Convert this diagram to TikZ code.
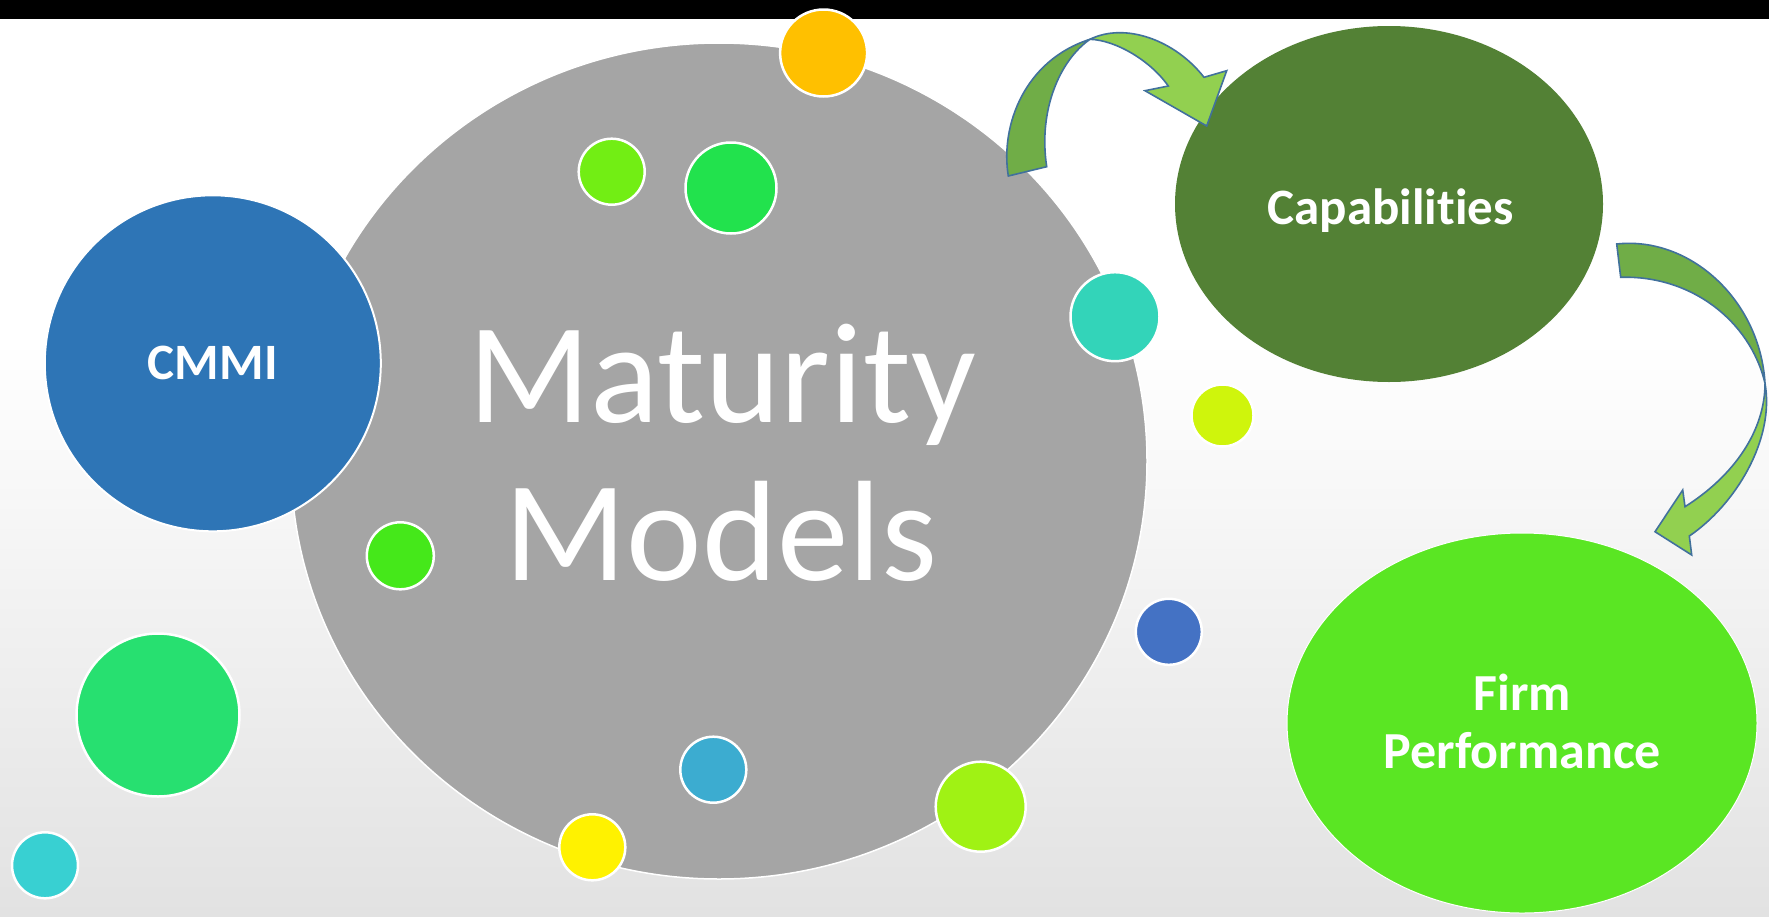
\documentclass[tikz,border=0pt]{standalone}
\usepackage{fontspec}
\setmainfont{Carlito}[Ligatures={NoCommon,NoRare}]
\usetikzlibrary{shapes.geometric}

\definecolor{bgbottom}{HTML}{E2E2E2}
\definecolor{mmgray}{HTML}{A5A5A5}
\definecolor{cmmiblue}{HTML}{2E75B6}
\definecolor{capgreen}{HTML}{538135}
\definecolor{perfgreen}{HTML}{5AE623}
\definecolor{arrowdark}{HTML}{70AD47}
\definecolor{arrowlight}{HTML}{92D050}
\definecolor{arrowline}{HTML}{41719C}
\definecolor{bOrange}{HTML}{FFC000}
\definecolor{bLime}{HTML}{72EE14}
\definecolor{bGreen}{HTML}{22E24D}
\definecolor{bTeal}{HTML}{33D4B9}
\definecolor{bChartreuse}{HTML}{CFF50C}
\definecolor{bLeaf}{HTML}{45E81A}
\definecolor{bBlue}{HTML}{4472C4}
\definecolor{bMint}{HTML}{27E070}
\definecolor{bSky}{HTML}{3CACD0}
\definecolor{bLemon}{HTML}{A0F214}
\definecolor{bYellow}{HTML}{FFF200}
\definecolor{bCyan}{HTML}{38D0D2}

\tikzset{
  bubble/.style={circle, draw=white, line width=2.5pt, inner sep=0pt},
  bigshape/.style={ellipse, inner sep=0pt},
  boldlabel/.style={text=white, font=\fontsize{51}{58}\selectfont\bfseries, anchor=base, inner sep=0pt},
  mmlabel/.style={text=white, font=\fontsize{143}{158}\selectfont, anchor=base, inner sep=0pt},
  ribbon/.style={draw=arrowline, line width=1.6pt, line join=miter},
}

\begin{document}
\begin{tikzpicture}[x=1pt,y=-1pt]
\useasboundingbox (0,0) rectangle (1769,916);

% backdrop: white fading to light grey, black strip on top
\fill[white] (0,0) rectangle (1769,340);
\shade[top color=white, bottom color=bgbottom] (0,340) rectangle (1769,916);
\fill[black] (0,0) rectangle (1769,19);

% central bubble
\node[bigshape, draw=white, line width=1.5pt, fill=mmgray,
      minimum width=856pt, minimum height=836pt] (mm) at (719,461) {};
\node[mmlabel] (mmtop) at (722,422) {Maturity};
\node[mmlabel] (mmbot) at (721,580) {Models};

% CMMI
\node[circle, draw=white, line width=2pt, fill=cmmiblue, inner sep=0pt,
      minimum size=336pt] (cmmi) at (212.8,363.3) {};
\node[boldlabel] (cmmitext) at (212.8,379) {CMMI};

% scattered bubbles
\node[bubble, fill=bOrange,     minimum size=87pt]  (b1)  at (823.6,53)    {};
\node[bubble, fill=bLime,       minimum size=66pt]  (b2)  at (611.7,171.7) {};
\node[bubble, fill=bGreen,      minimum size=91pt]  (b3)  at (731,188)     {};
\node[bubble, fill=bTeal,       minimum size=89pt]  (b4)  at (1115,316.7)  {};
\node[bubble, fill=bChartreuse, minimum size=62pt]  (b5)  at (1222.5,415.5){};
\node[bubble, fill=bLeaf,       minimum size=67pt]  (b6)  at (400.3,555.8) {};
\node[bubble, fill=bBlue,       minimum size=66pt]  (b7)  at (1168.8,631.8){};
\node[bubble, fill=bMint,       minimum size=163pt] (b8)  at (158,715)     {};
\node[bubble, fill=bSky,        minimum size=66pt]  (b9)  at (713.3,769.7) {};
\node[bubble, fill=bLemon,      minimum size=90pt]  (b10) at (980.7,806.7) {};
\node[bubble, fill=bYellow,     minimum size=66pt]  (b11) at (592.3,847.3) {};
\node[bubble, fill=bCyan,       minimum size=66pt]  (b12) at (45,865.3)    {};

% Capabilities
\node[bigshape, fill=capgreen, minimum width=428pt, minimum height=356pt] (cap) at (1389,204) {};
\node[boldlabel] (captext) at (1390.5,224.5) {Capabilities};

% Firm Performance
\node[bigshape, draw=white, line width=1pt, fill=perfgreen,
      minimum width=470pt, minimum height=380pt] (perf) at (1522,723) {};
\node[boldlabel, font=\fontsize{52}{58}\selectfont\bfseries] (perftop) at (1522.5,710) {Firm};
\node[boldlabel, font=\fontsize{52}{58}\selectfont\bfseries] (perfbot) at (1522.5,768.3) {Performance};

% curved ribbon arrow: Maturity Models -> Capabilities
\coordinate (a1tailout) at (1008.3,176);
\coordinate (a1tailin)  at (1046.7,166.7);
\coordinate (a1twist)   at (1090,39.3);
\filldraw[ribbon, fill=arrowdark] (a1tailout)
  .. controls (1000,125) and (1025,60) .. (a1twist)
  .. controls (1060,60) and (1038,110) .. (a1tailin)
  -- cycle;
\filldraw[ribbon, fill=arrowlight] (a1twist)
  .. controls (1125,22) and (1175,40) .. (1204,77.3)
  -- (1226.7,70.7) -- (1206.7,126) -- (1145,90.7) -- (1168.3,86)
  .. controls (1150,60) and (1115,40) .. (a1twist)
  -- cycle;

% curved ribbon arrow: Capabilities -> Firm Performance
\coordinate (a2tailout) at (1616.7,244);
\coordinate (a2tailin)  at (1620.7,277.3);
\coordinate (a2twist)   at (1765,383.3);
\filldraw[ribbon, fill=arrowdark] (a2tailout)
  .. controls (1690,236) and (1760,300) .. (a2twist)
  .. controls (1750,320) and (1690,275) .. (a2tailin)
  -- cycle;
\filldraw[ribbon, fill=arrowlight] (a2twist)
  .. controls (1775,440) and (1735,505) .. (1689.3,536)
  -- (1691.7,555) -- (1655,531.7) -- (1682.7,490) -- (1685,506.7)
  .. controls (1735,475) and (1765,430) .. (a2twist)
  -- cycle;
\end{tikzpicture}
\end{document}
